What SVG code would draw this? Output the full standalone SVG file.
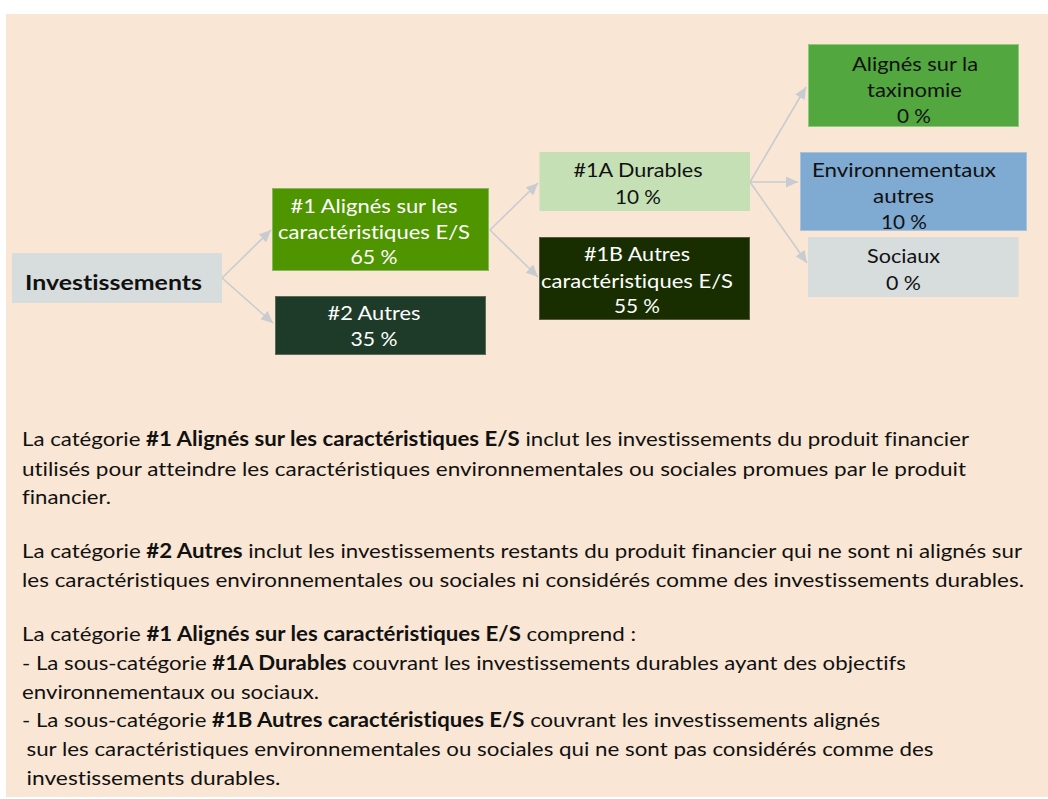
<svg xmlns="http://www.w3.org/2000/svg" width="1048" height="799" viewBox="0 0 1048 799">
<style>
.t{font-family:Lato,"Open Sans","Liberation Sans",sans-serif;font-size:20px;font-variant-ligatures:none;}
.nd{font-family:Lato,"Open Sans","Liberation Sans",sans-serif;font-size:20px;text-anchor:middle;font-variant-ligatures:none;}
.w{fill:#ffffff;}
.k{fill:#111111;}
.b{font-weight:bold;}
.con{stroke:#c8ccd1;stroke-width:1.6;fill:none;marker-end:url(#ah);}
</style>
<defs>
<marker id="ah" markerUnits="userSpaceOnUse" markerWidth="13" markerHeight="11" refX="12" refY="5.5" orient="auto">
<path d="M0,0 L12,5.5 L0,11 z" fill="#c8ccd1"/>
</marker>
</defs>
<rect x="0" y="0" width="1048" height="799" fill="#ffffff"/>
<rect x="6" y="14" width="1042" height="783" fill="#f9e6d4"/>

<g id="connectors">
<line class="con" x1="222" y1="278" x2="271" y2="230"/>
<line class="con" x1="222" y1="278" x2="273" y2="323"/>
<line class="con" x1="490" y1="230" x2="538" y2="183"/>
<line class="con" x1="490" y1="230" x2="538" y2="277"/>
<line class="con" x1="750" y1="182" x2="806" y2="87"/>
<line class="con" x1="750" y1="182" x2="798" y2="182"/>
<line class="con" x1="750" y1="182" x2="807" y2="263"/>
</g>

<g id="investissements">
<rect x="12" y="253" width="210" height="50" fill="#d7dcdd"/>
<text class="t k b" x="25" y="290" font-size="22" textLength="177" lengthAdjust="spacingAndGlyphs">Investissements</text>
</g>

<g id="n1">
<rect x="272.5" y="188.5" width="216" height="82" fill="#4f9500" stroke="#86b860" stroke-width="1"/>
<text class="nd w" x="374" y="213" textLength="167" lengthAdjust="spacingAndGlyphs">#1 Alignés sur les</text>
<text class="nd w" x="374" y="239" textLength="192" lengthAdjust="spacingAndGlyphs">caractéristiques E/S</text>
<text class="nd w" x="374" y="264" textLength="47" lengthAdjust="spacingAndGlyphs">65 %</text>
</g>

<g id="n2">
<rect x="275.5" y="296.5" width="210" height="58" fill="#1e3b29" stroke="#5b6b55" stroke-width="1"/>
<text class="nd w" x="374" y="320" textLength="93" lengthAdjust="spacingAndGlyphs">#2 Autres</text>
<text class="nd w" x="374" y="346" textLength="47" lengthAdjust="spacingAndGlyphs">35 %</text>
</g>

<g id="n1a">
<rect x="539.5" y="152" width="210.5" height="59" fill="#c5e0b4"/>
<text class="nd k" x="638" y="177" textLength="129" lengthAdjust="spacingAndGlyphs">#1A Durables</text>
<text class="nd k" x="638" y="204" textLength="46" lengthAdjust="spacingAndGlyphs">10 %</text>
</g>

<g id="n1b">
<rect x="539.5" y="237.5" width="210" height="82" fill="#182e00" stroke="#5a5a40" stroke-width="1"/>
<text class="nd w" x="637" y="261" textLength="106" lengthAdjust="spacingAndGlyphs">#1B Autres</text>
<text class="nd w" x="637" y="288" textLength="192" lengthAdjust="spacingAndGlyphs">caractéristiques E/S</text>
<text class="nd w" x="637" y="313" textLength="46" lengthAdjust="spacingAndGlyphs">55 %</text>
</g>

<g id="taxinomie">
<rect x="808.5" y="44.5" width="210" height="82" fill="#53a73f" stroke="#8ccc78" stroke-width="1"/>
<text class="nd k" x="915" y="71" textLength="126" lengthAdjust="spacingAndGlyphs">Alignés sur la</text>
<text class="nd k" x="914.5" y="97" textLength="95" lengthAdjust="spacingAndGlyphs">taxinomie</text>
<text class="nd k" x="914" y="123" textLength="34" lengthAdjust="spacingAndGlyphs">0 %</text>
</g>

<g id="environnementaux">
<rect x="800.5" y="152.5" width="226" height="78" fill="#7faad1" stroke="#a6c3e0" stroke-width="1"/>
<text class="nd k" x="904" y="177" textLength="184" lengthAdjust="spacingAndGlyphs">Environnementaux</text>
<text class="nd k" x="903.5" y="203" textLength="61" lengthAdjust="spacingAndGlyphs">autres</text>
<text class="nd k" x="904" y="229" textLength="46" lengthAdjust="spacingAndGlyphs">10 %</text>
</g>

<g id="sociaux">
<rect x="808" y="237" width="210.5" height="60" fill="#d7dcdd"/>
<text class="nd k" x="903.5" y="263" textLength="73" lengthAdjust="spacingAndGlyphs">Sociaux</text>
<text class="nd k" x="903.5" y="290" textLength="35" lengthAdjust="spacingAndGlyphs">0 %</text>
</g>

<g id="legend" class="t k">
<text x="22" y="446" textLength="947" lengthAdjust="spacingAndGlyphs">La catégorie <tspan class="b">#1 Alignés sur les caractéristiques E/S</tspan> inclut les investissements du produit financier</text>
<text x="22" y="476" textLength="944" lengthAdjust="spacingAndGlyphs">utilisés pour atteindre les caractéristiques environnementales ou sociales promues par le produit</text>
<text x="22" y="504" textLength="89" lengthAdjust="spacingAndGlyphs">financier.</text>
<text x="22" y="558" textLength="1000" lengthAdjust="spacingAndGlyphs">La catégorie <tspan class="b">#2 Autres</tspan> inclut les investissements restants du produit financier qui ne sont ni alignés sur</text>
<text x="22" y="587" textLength="1002" lengthAdjust="spacingAndGlyphs">les caractéristiques environnementales ou sociales ni considérés comme des investissements durables.</text>
<text x="22" y="641" textLength="614" lengthAdjust="spacingAndGlyphs">La catégorie <tspan class="b">#1 Alignés sur les caractéristiques E/S</tspan> comprend :</text>
<text x="22" y="670" textLength="884" lengthAdjust="spacingAndGlyphs">- La sous-catégorie <tspan class="b">#1A Durables</tspan> couvrant les investissements durables ayant des objectifs</text>
<text x="22" y="699" textLength="297" lengthAdjust="spacingAndGlyphs">environnementaux ou sociaux.</text>
<text x="22" y="727" textLength="858" lengthAdjust="spacingAndGlyphs">- La sous-catégorie <tspan class="b">#1B Autres caractéristiques E/S</tspan> couvrant les investissements alignés</text>
<text x="26.5" y="756" textLength="907" lengthAdjust="spacingAndGlyphs">sur les caractéristiques environnementales ou sociales qui ne sont pas considérés comme des</text>
<text x="26.5" y="785" textLength="254" lengthAdjust="spacingAndGlyphs">investissements durables.</text>
</g>
</svg>
